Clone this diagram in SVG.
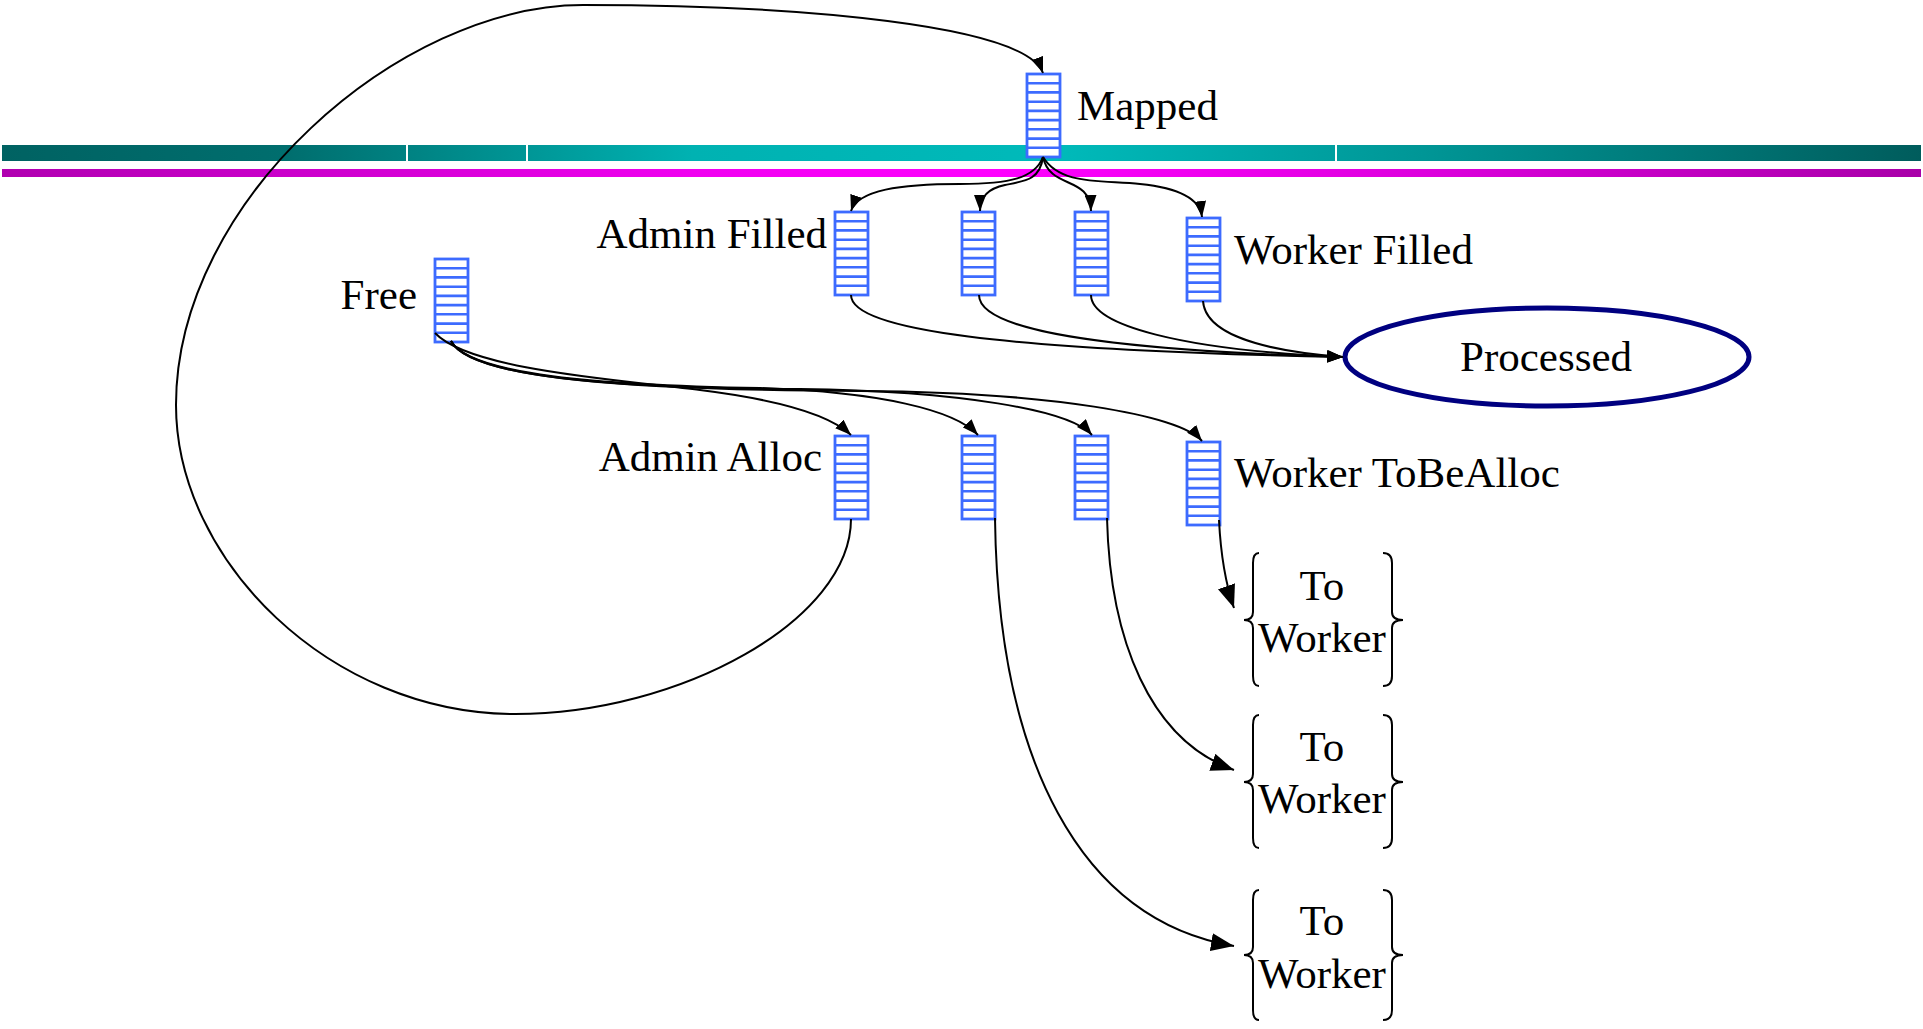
<svg xmlns="http://www.w3.org/2000/svg" xmlns:xlink="http://www.w3.org/1999/xlink" width="1923" height="1029" viewBox="0 0 1923 1029">
<style>
.lbl{font-family:"Liberation Serif","Times New Roman",serif;font-size:43px;fill:#000}
.conn{fill:none;stroke:#000;stroke-width:2}
.qr{fill:#fff;stroke:#3d6bff;stroke-width:2.8}
.ql{stroke:#3d6bff;stroke-width:2.6}
.brace{fill:none;stroke:#000;stroke-width:2}
</style>
<defs>
<linearGradient id="teal" gradientUnits="userSpaceOnUse" x1="0" y1="0" x2="1923" y2="0">
<stop offset="0" stop-color="#006262"/>
<stop offset="0.15" stop-color="#006e6e"/>
<stop offset="0.36" stop-color="#00b2b2"/>
<stop offset="0.55" stop-color="#00baba"/>
<stop offset="0.74" stop-color="#009696"/>
<stop offset="1" stop-color="#005c5c"/>
</linearGradient>
<linearGradient id="mag" gradientUnits="userSpaceOnUse" x1="0" y1="0" x2="1923" y2="0">
<stop offset="0" stop-color="#b000b0"/>
<stop offset="0.36" stop-color="#f000f0"/>
<stop offset="0.52" stop-color="#ff00ff"/>
<stop offset="0.74" stop-color="#dd00dd"/>
<stop offset="1" stop-color="#a800a8"/>
</linearGradient>
<marker id="sa" markerUnits="userSpaceOnUse" markerWidth="16" markerHeight="12" refX="16" refY="6" orient="auto">
<path d="M0,0 L16,6 L0,12 z" fill="#000"/>
</marker>
<marker id="la" markerUnits="userSpaceOnUse" markerWidth="23" markerHeight="18" refX="23" refY="9" orient="auto">
<path d="M0,0 L23,9 L0,18 z" fill="#000"/>
</marker>
<g id="queue">
<rect class="qr" x="0" y="0" width="33" height="83"/>
<line class="ql" x1="0" y1="9.2" x2="33" y2="9.2"/>
<line class="ql" x1="0" y1="18.4" x2="33" y2="18.4"/>
<line class="ql" x1="0" y1="27.7" x2="33" y2="27.7"/>
<line class="ql" x1="0" y1="36.9" x2="33" y2="36.9"/>
<line class="ql" x1="0" y1="46.1" x2="33" y2="46.1"/>
<line class="ql" x1="0" y1="55.3" x2="33" y2="55.3"/>
<line class="ql" x1="0" y1="64.6" x2="33" y2="64.6"/>
<line class="ql" x1="0" y1="73.8" x2="33" y2="73.8"/>
</g>
</defs>

<g id="bands">
<rect x="2" y="145" width="1919" height="16" fill="url(#teal)"/>
<rect x="406" y="145" width="2" height="16" fill="#fff"/>
<rect x="526" y="145" width="2" height="16" fill="#fff"/>
<rect x="1335" y="145" width="2" height="16" fill="#fff"/>
<rect x="2" y="169" width="1919" height="8" fill="url(#mag)"/>
</g>

<g id="node-mapped"><use xlink:href="#queue" x="1027" y="74"/><text class="lbl" x="1077" y="120">Mapped</text></g>
<g id="node-free"><use xlink:href="#queue" x="435" y="259"/><text class="lbl" x="417" y="309" text-anchor="end">Free</text></g>
<g id="node-admin-filled"><use xlink:href="#queue" x="835" y="212"/><text class="lbl" x="827" y="248" text-anchor="end">Admin Filled</text></g>
<g id="node-filled-2"><use xlink:href="#queue" x="962" y="212"/></g>
<g id="node-filled-3"><use xlink:href="#queue" x="1075" y="212"/></g>
<g id="node-worker-filled"><use xlink:href="#queue" x="1187" y="218"/><text class="lbl" x="1234" y="264">Worker Filled</text></g>
<g id="node-admin-alloc"><use xlink:href="#queue" x="835" y="436"/><text class="lbl" x="822" y="471" text-anchor="end">Admin Alloc</text></g>
<g id="node-alloc-2"><use xlink:href="#queue" x="962" y="436"/></g>
<g id="node-alloc-3"><use xlink:href="#queue" x="1075" y="436"/></g>
<g id="node-worker-alloc"><use xlink:href="#queue" x="1187" y="442"/><text class="lbl" x="1234" y="487">Worker ToBeAlloc</text></g>
<g id="node-processed"><ellipse cx="1547" cy="357" rx="202" ry="49" fill="#fff" stroke="#000080" stroke-width="5"/><text class="lbl" x="1546" y="371" text-anchor="middle">Processed</text></g>

<g id="node-toworker-1">
<path class="brace" d="M1259,553 Q1253,553 1253,563 L1253,612 Q1253,620 1244,620 Q1253,620 1253,628 L1253,676 Q1253,686 1259,686"/>
<path class="brace" d="M1383,553 Q1392,553 1392,563 L1392,612 Q1392,620 1403,620 Q1392,620 1392,628 L1392,676 Q1392,686 1383,686"/>
<text class="lbl" x="1322" y="600" text-anchor="middle">To</text>
<text class="lbl" x="1322" y="652" text-anchor="middle">Worker</text>
</g>
<g id="node-toworker-2">
<path class="brace" d="M1259,715 Q1253,715 1253,725 L1253,774 Q1253,782 1244,782 Q1253,782 1253,790 L1253,838 Q1253,848 1259,848"/>
<path class="brace" d="M1383,715 Q1392,715 1392,725 L1392,774 Q1392,782 1403,782 Q1392,782 1392,790 L1392,838 Q1392,848 1383,848"/>
<text class="lbl" x="1322" y="761" text-anchor="middle">To</text>
<text class="lbl" x="1322" y="813" text-anchor="middle">Worker</text>
</g>
<g id="node-toworker-3">
<path class="brace" d="M1259,890 Q1253,890 1253,900 L1253,947 Q1253,955 1244,955 Q1253,955 1253,963 L1253,1010 Q1253,1020 1259,1020"/>
<path class="brace" d="M1383,890 Q1392,890 1392,900 L1392,947 Q1392,955 1403,955 Q1392,955 1392,963 L1392,1010 Q1392,1020 1383,1020"/>
<text class="lbl" x="1322" y="935" text-anchor="middle">To</text>
<text class="lbl" x="1322" y="988" text-anchor="middle">Worker</text>
</g>

<g id="connectors">
<path class="conn" marker-end="url(#sa)" d="M851,519 C851,620 680,714 515,714 C330,714 176,560 176,405 C176,200 400,5 583,5 C800,5 1025,25 1043,73"/>
<path class="conn" marker-end="url(#sa)" d="M1043,157 C1035,178 1010,184 960,184 C900,184 858,190 851,211"/>
<path class="conn" marker-end="url(#sa)" d="M1043,157 C1040,180 1025,181 1005,185 C990,188 980,195 980,211"/>
<path class="conn" marker-end="url(#sa)" d="M1043,157 C1050,190 1090,175 1091,211"/>
<path class="conn" marker-end="url(#sa)" d="M1043,157 C1060,185 1100,180 1140,184 C1180,188 1200,200 1202,217"/>
<path class="conn" marker-end="url(#sa)" d="M851,295 C851,330 1000,350 1343,357"/>
<path class="conn" marker-end="url(#sa)" d="M979,295 C979,330 1100,350 1343,357"/>
<path class="conn" marker-end="url(#sa)" d="M1091,295 C1091,325 1180,350 1343,357"/>
<path class="conn" marker-end="url(#sa)" d="M1203,301 C1205,330 1250,350 1343,357"/>
<path class="conn" marker-end="url(#sa)" d="M435,333 C470,370 620,380 700,390 C780,400 830,415 851,435"/>
<path class="conn" marker-end="url(#sa)" d="M451,341 C470,375 600,385 760,388 C880,392 955,410 978,435"/>
<path class="conn" marker-end="url(#sa)" d="M451,341 C470,378 620,388 800,389 C960,391 1070,410 1092,435"/>
<path class="conn" marker-end="url(#sa)" d="M451,341 C470,380 640,390 860,391 C1050,392 1180,415 1202,441"/>
<path class="conn" marker-end="url(#la)" d="M1219,520 C1221,560 1226,585 1234,608"/>
<path class="conn" marker-end="url(#la)" d="M1107,518 C1110,640 1150,740 1234,770"/>
<path class="conn" marker-end="url(#la)" d="M995,518 C998,760 1080,920 1234,946"/>
</g>
</svg>
